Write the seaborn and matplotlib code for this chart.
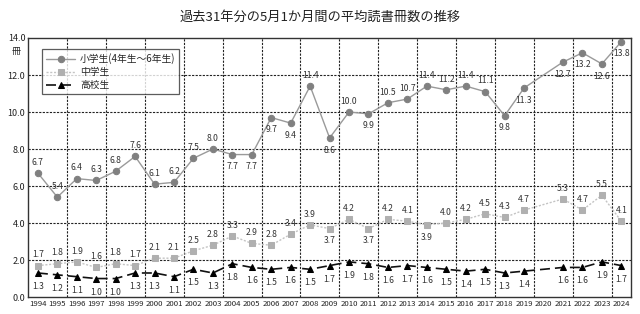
import numpy as np
import pandas as pd
import matplotlib
matplotlib.use("Agg")
import matplotlib.pyplot as plt
import seaborn as sns

years = [str(y) for y in range(1994, 2025)]
elementary = [6.7, 5.4, 6.4, 6.3, 6.8, 7.6, 6.1, 6.2, 7.5, 8.0, 7.7, 7.7, 9.7, 9.4, 11.4, 8.6,
              10.0, 9.9, 10.5, 10.7, 11.4, 11.2, 11.4, 11.1, 9.8, 11.3, np.nan, 12.7, 13.2, 12.6, 13.8]
middle = [1.7, 1.8, 1.9, 1.6, 1.8, 1.7, 2.1, 2.1, 2.5, 2.8, 3.3, 2.9, 2.8, 3.4, 3.9, 3.7,
          4.2, 3.7, 4.2, 4.1, 3.9, 4.0, 4.2, 4.5, 4.3, 4.7, np.nan, 5.3, 4.7, 5.5, 4.1]
high = [1.3, 1.2, 1.1, 1.0, 1.0, 1.3, 1.3, 1.1, 1.5, 1.3, 1.8, 1.6, 1.5, 1.6, 1.5, 1.7,
        1.9, 1.8, 1.6, 1.7, 1.6, 1.5, 1.4, 1.5, 1.3, 1.4, np.nan, 1.6, 1.6, 1.9, 1.7]
series_names = ["小学生(4年生～6年生)", "中学生", "高校生"]

# years whose labels sit below the point
elem_below = {"2004", "2005", "2006", "2007", "2009", "2011", "2018", "2019", "2021", "2022", "2023", "2024"}
mid_below = {"2009", "2011", "2014"}

sns.set_theme(style="white")
plt.rcParams['font.family'] = ['Noto Sans CJK JP', 'DejaVu Sans']

fig = plt.figure(figsize=(6.4, 3.14), dpi=100)
ax = fig.add_axes([0.044, 0.054, 0.942, 0.825])

rows = []
for name, vals in zip(series_names, [elementary, middle, high]):
    for i, (y, v) in enumerate(zip(years, vals)):
        if not np.isnan(v):
            rows.append({"pos": i, "year": y, "value": v, "series": name})
df = pd.DataFrame(rows)

styles = {
    series_names[0]: dict(color="#9a9a9a", ls="-", marker="o", mfc="#808080", mec="#808080", ms=4.6, lw=1.0),
    series_names[1]: dict(color="#c4c4c4", ls=(0, (1.5, 1.2)), marker="s", mfc="#b0b0b0", mec="#b0b0b0", ms=4.6, lw=1.0),
    series_names[2]: dict(color="#111111", ls=(0, (6, 3)), marker="^", mfc="#000000", mec="#000000", ms=4.8, lw=1.2),
}
for name in series_names:
    st = styles[name]
    sub = df[df["series"] == name]
    sns.lineplot(data=sub, x="pos", y="value", ax=ax, color=st["color"], linestyle=st["ls"],
                 marker=st["marker"], markerfacecolor=st["mfc"], markeredgecolor=st["mec"],
                 markersize=st["ms"], linewidth=st["lw"], label=name, estimator=None, sort=False)

# data labels
fs = 6.2
for name, below in [(series_names[0], elem_below), (series_names[1], mid_below)]:
    sub = df[df["series"] == name]
    for _, r in sub.iterrows():
        if r["year"] in below:
            ax.annotate(f"{r['value']:.1f}", (r["pos"], r["value"]), xytext=(0, -5.5), textcoords="offset points",
                        ha="center", va="top", fontsize=fs, color="#333333")
        else:
            ax.annotate(f"{r['value']:.1f}", (r["pos"], r["value"]), xytext=(0, 4.5), textcoords="offset points",
                        ha="center", va="bottom", fontsize=fs, color="#333333")
sub = df[df["series"] == series_names[2]]
for _, r in sub.iterrows():
    ax.annotate(f"{r['value']:.1f}", (r["pos"], r["value"]), xytext=(0, -6.5), textcoords="offset points",
                ha="center", va="top", fontsize=fs, color="#333333")

ax.set_xlim(-0.5, len(years) - 0.5)
ax.set_ylim(0, 14)
ax.set_xticks(range(len(years)))
ax.set_xticklabels(years, fontsize=5.6, color="#222222")
ax.set_yticks(np.arange(0, 15, 2))
ax.set_yticklabels([f"{v:.1f}" for v in np.arange(0, 15, 2)], fontsize=6.5, color="#222222")
ax.tick_params(axis="both", length=0, pad=2)
ax.set_xlabel("")
ax.set_ylabel("")

for yv in range(2, 14, 2):
    ax.axhline(yv, color="#222222", lw=0.8, ls=(0, (2, 1.2)), zorder=0)
for xv in np.arange(1.5, len(years) - 0.5, 2):
    ax.axvline(xv, color="#222222", lw=0.8, ls=(0, (2, 1.2)), zorder=0)

for sp in ax.spines.values():
    sp.set_color("#333333")
    sp.set_linewidth(1.0)

leg = ax.legend(loc="upper left", bbox_to_anchor=(0.015, 0.975), fontsize=7, frameon=True,
                fancybox=False, edgecolor="#333333", handlelength=3.0, borderpad=0.4,
                labelspacing=0.3, handletextpad=0.5)
leg.get_frame().set_linewidth(0.9)

fig.text(0.5, 0.945, "過去31年分の5月1か月間の平均読書冊数の推移", ha="center", va="center", fontsize=9.5, color="#222222")
fig.text(0.032, 0.835, "冊", ha="right", va="center", fontsize=6.5, color="#222222")

fig.savefig("out.png", dpi=100, facecolor="white")
